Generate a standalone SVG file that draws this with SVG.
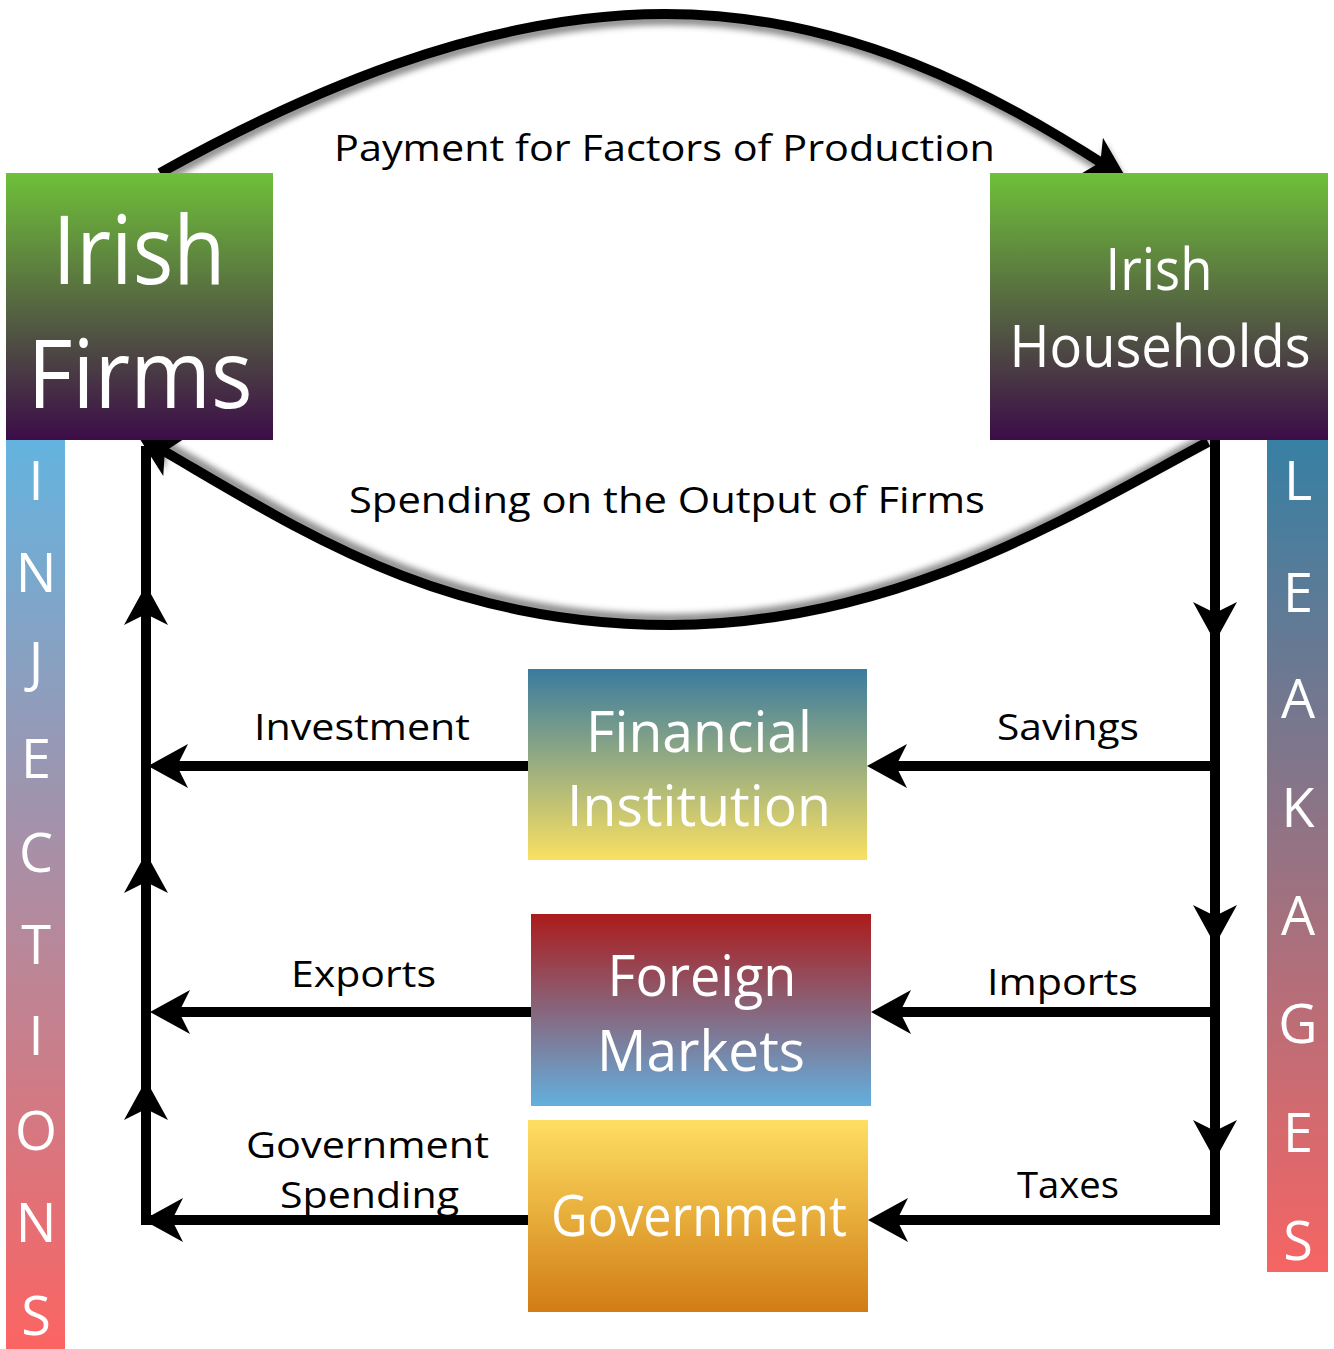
<svg xmlns="http://www.w3.org/2000/svg" xmlns:xlink="http://www.w3.org/1999/xlink" width="1334" height="1349" viewBox="0 0 1334 1349">
  <style>
    .lbl { font-family: "Open Sans", "Liberation Sans", sans-serif; font-size: 37px; fill: #000; }
    .wt { font-family: "Open Sans", "Liberation Sans", sans-serif; fill: #fff; text-anchor: middle; }
    .bar { font-family: "Open Sans", "Liberation Sans", sans-serif; font-size: 54px; fill: #fff; text-anchor: middle; }
    .conn { stroke: #000; stroke-width: 10; fill: none; }
  </style>
  <defs>
    <linearGradient id="gPurple" x1="0" y1="0" x2="0" y2="1">
      <stop offset="0" stop-color="#6fc03a"/>
      <stop offset="1" stop-color="#3c0c48"/>
    </linearGradient>
    <linearGradient id="gInj" x1="0" y1="0" x2="0" y2="1">
      <stop offset="0" stop-color="#63b4e0"/>
      <stop offset="1" stop-color="#fb6462"/>
    </linearGradient>
    <linearGradient id="gLeak" x1="0" y1="0" x2="0" y2="1">
      <stop offset="0" stop-color="#3780a3"/>
      <stop offset="1" stop-color="#f66563"/>
    </linearGradient>
    <linearGradient id="gFin" x1="0" y1="0" x2="0" y2="1">
      <stop offset="0" stop-color="#3a7b9e"/>
      <stop offset="1" stop-color="#f9e062"/>
    </linearGradient>
    <linearGradient id="gFor" x1="0" y1="0" x2="0" y2="1">
      <stop offset="0" stop-color="#ac1b1b"/>
      <stop offset="1" stop-color="#63b0de"/>
    </linearGradient>
    <linearGradient id="gGov" x1="0" y1="0" x2="0" y2="1">
      <stop offset="0" stop-color="#fedf62"/>
      <stop offset="1" stop-color="#d17c14"/>
    </linearGradient>
    <filter id="shDown" x="-10%" y="-20%" width="120%" height="140%">
      <feDropShadow dx="2" dy="6" stdDeviation="3" flood-color="#000" flood-opacity="0.45"/>
    </filter>
    <filter id="shUp" x="-10%" y="-20%" width="120%" height="140%">
      <feDropShadow dx="2" dy="-6" stdDeviation="3" flood-color="#000" flood-opacity="0.45"/>
    </filter>
    <!-- notched arrowhead, tip at origin, pointing along +x -->
    <path id="head" d="M0,0 L-40,-22 L-29,0 L-40,22 Z" fill="#000"/>
    <marker id="arr" markerUnits="userSpaceOnUse" viewBox="-22 -24 46 48" refX="0" refY="0" markerWidth="46" markerHeight="48" orient="auto">
      <path d="M22,0 L-20,-22 L-9,0 L-20,22 Z" fill="#000"/>
    </marker>
  </defs>

  <rect width="1334" height="1349" fill="#fff"/>

  <!-- side bars -->
  <g id="injections">
    <rect x="6" y="438" width="59" height="911" fill="url(#gInj)"/>
    <text class="bar" x="36" y="500">I</text>
    <text class="bar" x="36" y="592">N</text>
    <text class="bar" x="36" y="681">J</text>
    <text class="bar" x="36" y="778">E</text>
    <text class="bar" x="36" y="872">C</text>
    <text class="bar" x="36" y="964">T</text>
    <text class="bar" x="36" y="1055">I</text>
    <text class="bar" x="36" y="1150">O</text>
    <text class="bar" x="36" y="1242">N</text>
    <text class="bar" x="36" y="1335">S</text>
  </g>
  <g id="leakages">
    <rect x="1267" y="440" width="61" height="832" fill="url(#gLeak)"/>
    <text class="bar" x="1298" y="500">L</text>
    <text class="bar" x="1298" y="612">E</text>
    <text class="bar" x="1298" y="718">A</text>
    <text class="bar" x="1298" y="827">K</text>
    <text class="bar" x="1298" y="935">A</text>
    <text class="bar" x="1298" y="1043">G</text>
    <text class="bar" x="1298" y="1152">E</text>
    <text class="bar" x="1298" y="1260">S</text>
  </g>

  <!-- connectors -->
  <g id="connectors">
    <path class="conn" filter="url(#shDown)" marker-end="url(#arr)" d="M160,173 C300,95 480,14 665,14 C850,14 995,95 1108,167"/>
    <path class="conn" filter="url(#shUp)" marker-end="url(#arr)" d="M1208,442 C1080,510 900,625 670,625 C440,625 300,530 157,447"/>

    <path class="conn" d="M146,1225 V446"/>
    <path class="conn" d="M1215,440 V1220 H890"/>
    <path class="conn" d="M528,766 H170"/>
    <path class="conn" d="M531,1012 H170"/>
    <path class="conn" d="M531,1220 H146"/>
    <path class="conn" d="M1220,766 H890"/>
    <path class="conn" d="M1215,1012 H893"/>

    <use xlink:href="#head" transform="translate(146,585) rotate(-90)"/>
    <use xlink:href="#head" transform="translate(146,853) rotate(-90)"/>
    <use xlink:href="#head" transform="translate(146,1080) rotate(-90)"/>
    <use xlink:href="#head" transform="translate(1215,642) rotate(90)"/>
    <use xlink:href="#head" transform="translate(1215,945) rotate(90)"/>
    <use xlink:href="#head" transform="translate(1215,1160) rotate(90)"/>
    <use xlink:href="#head" transform="translate(148,766) rotate(180)"/>
    <use xlink:href="#head" transform="translate(150,1012) rotate(180)"/>
    <use xlink:href="#head" transform="translate(143,1220) rotate(180)"/>
    <use xlink:href="#head" transform="translate(867,766) rotate(180)"/>
    <use xlink:href="#head" transform="translate(871,1012) rotate(180)"/>
    <use xlink:href="#head" transform="translate(868,1220) rotate(180)"/>

    <g id="flow-labels">
      <text class="lbl" x="334" y="161" textLength="661" lengthAdjust="spacingAndGlyphs">Payment for Factors of Production</text>
      <text class="lbl" x="349" y="513" textLength="636" lengthAdjust="spacingAndGlyphs">Spending on the Output of Firms</text>
      <text class="lbl" x="254" y="740" textLength="216" lengthAdjust="spacingAndGlyphs">Investment</text>
      <text class="lbl" x="997" y="740" textLength="142" lengthAdjust="spacingAndGlyphs">Savings</text>
      <text class="lbl" x="291" y="987" textLength="145" lengthAdjust="spacingAndGlyphs">Exports</text>
      <text class="lbl" x="987" y="995" textLength="151" lengthAdjust="spacingAndGlyphs">Imports</text>
      <text class="lbl" x="246" y="1158" textLength="243" lengthAdjust="spacingAndGlyphs">Government</text>
      <text class="lbl" x="280" y="1208" textLength="179" lengthAdjust="spacingAndGlyphs">Spending</text>
      <text class="lbl" x="1017" y="1198" textLength="102" lengthAdjust="spacingAndGlyphs">Taxes</text>
    </g>
  </g>

  <!-- nodes -->
  <g id="firms">
    <rect x="6" y="173" width="267" height="267" fill="url(#gPurple)"/>
    <text class="wt" x="139" y="284" font-size="96" textLength="173" lengthAdjust="spacingAndGlyphs">Irish</text>
    <text class="wt" x="140" y="408" font-size="96" textLength="225" lengthAdjust="spacingAndGlyphs">Firms</text>
  </g>
  <g id="households">
    <rect x="990" y="173" width="338" height="267" fill="url(#gPurple)"/>
    <text class="wt" x="1159" y="290" font-size="58" textLength="107" lengthAdjust="spacingAndGlyphs">Irish</text>
    <text class="wt" x="1160" y="367" font-size="58" textLength="301" lengthAdjust="spacingAndGlyphs">Households</text>
  </g>
  <g id="financial">
    <rect x="528" y="669" width="339" height="191" fill="url(#gFin)"/>
    <text class="wt" x="699" y="752" font-size="56" textLength="226" lengthAdjust="spacingAndGlyphs">Financial</text>
    <text class="wt" x="699" y="826" font-size="56" textLength="264" lengthAdjust="spacingAndGlyphs">Institution</text>
  </g>
  <g id="foreign">
    <rect x="531" y="914" width="340" height="192" fill="url(#gFor)"/>
    <text class="wt" x="702" y="996" font-size="56" textLength="189" lengthAdjust="spacingAndGlyphs">Foreign</text>
    <text class="wt" x="701" y="1071" font-size="56" textLength="208" lengthAdjust="spacingAndGlyphs">Markets</text>
  </g>
  <g id="government">
    <rect x="528" y="1120" width="340" height="192" fill="url(#gGov)"/>
    <text class="wt" x="699" y="1236" font-size="56" textLength="296" lengthAdjust="spacingAndGlyphs">Government</text>
  </g>
</svg>
